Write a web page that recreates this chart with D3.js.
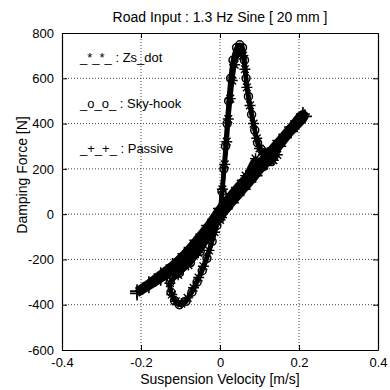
<!DOCTYPE html>
<html><head><meta charset="utf-8">
<script src="https://cdn.jsdelivr.net/npm/d3@7"></script>
<style>
html,body{margin:0;padding:0;background:#fff;}
text{font-family:"Liberation Sans",Arial,Helvetica,sans-serif;fill:#000;}
</style></head>
<body><svg id="c" width="390" height="390"></svg>
<script>
// ---- data ----
const xTicks = [-0.4, -0.2, 0, 0.2, 0.4];
const yTicks = [-600, -400, -200, 0, 200, 400, 600, 800];
const xTickLabels = ["-0.4", "-0.2", "0", "0.2", "0.4"];
const yTickLabels = ["-600", "-400", "-200", "0", "200", "400", "600", "800"];
const legendLabels = ["_*_*_ : Zs_dot", "_o_o_ : Sky-hook", "_+_+_ : Passive"];

const skyX = [0,0.005,0.01,0.014,0.018,0.022,0.027,0.033,0.042,0.05,0.057,0.062,0.066,0.072,0.08,0.088,0.095,0.105,0.12,0.135,0.13,0.11,0.085,0.06,0.035,0.015,0,
  -0.025,-0.05,-0.075,-0.103,-0.126,-0.124,-0.115,-0.103,-0.086,-0.071,-0.058,-0.045,-0.033,-0.02,-0.008,0];
const skyY = [0,100,200,300,400,500,600,680,735,748,735,680,600,520,440,370,315,285,270,255,232,210,180,140,85,30,-20,
  -95,-165,-215,-260,-300,-345,-382,-400,-385,-345,-300,-250,-195,-120,-50,0];

const zsX = [0,0.006,0.012,0.017,0.021,0.026,0.031,0.037,0.045,0.052,0.058,0.063,0.068,0.076,0.085,0.093,0.1,0.11,0.125,0.145,0.135,0.112,0.09,0.065,0.04,0.018,0,
  -0.028,-0.055,-0.08,-0.106,-0.127,-0.122,-0.112,-0.098,-0.082,-0.067,-0.054,-0.042,-0.028,-0.014,0];
const zsY = [0,110,220,320,420,510,590,660,705,722,700,640,560,480,400,335,290,262,255,262,238,215,245,170,95,35,-25,
  -100,-170,-225,-268,-305,-355,-385,-395,-370,-325,-280,-230,-160,-80,0];

const pasX = [-0.21,-0.18,-0.15,-0.12,-0.09,-0.06,-0.03,0,0.03,0.06,0.09,0.12,0.15,0.18,0.215,
  0.21,0.18,0.15,0.12,0.09,0.06,0.03,0,-0.03,-0.06,-0.09,-0.12,-0.15,-0.18,-0.21];
const pasY = [-350,-318,-285,-250,-205,-150,-80,-15,50,110,170,235,300,365,432,
  442,385,325,265,205,150,90,25,-50,-115,-175,-225,-265,-305,-340];

// ---- layout ----
const svg = d3.select("#c");
const L = 62, R = 378, T = 33, B = 350;
const x = d3.scaleLinear().domain([-0.4, 0.4]).range([L, R]);
const y = d3.scaleLinear().domain([-600, 800]).range([B, T]);

// grid
const g = svg.append("g");
g.selectAll(".gx").data(xTicks.slice(1, -1)).enter().append("line")
  .attr("x1", d => x(d)).attr("x2", d => x(d)).attr("y1", T).attr("y2", B)
  .attr("stroke", "#444").attr("stroke-width", 1).attr("stroke-dasharray", "1,2");
g.selectAll(".gy").data(yTicks.slice(1, -1)).enter().append("line")
  .attr("y1", d => y(d)).attr("y2", d => y(d)).attr("x1", L).attr("x2", R)
  .attr("stroke", "#444").attr("stroke-width", 1).attr("stroke-dasharray", "1,2");

// axes
const xAx = svg.append("g").attr("transform", `translate(0,${B})`)
  .call(d3.axisBottom(x).tickValues(xTicks).tickFormat((d, i) => xTickLabels[i]).tickSizeInner(-5).tickSizeOuter(0).tickPadding(8));
const xAxT = svg.append("g").attr("transform", `translate(0,${T})`)
  .call(d3.axisTop(x).tickValues(xTicks).tickFormat("").tickSizeInner(-5).tickSizeOuter(0));
const yAx = svg.append("g").attr("transform", `translate(${L},0)`)
  .call(d3.axisLeft(y).tickValues(yTicks).tickFormat((d, i) => yTickLabels[i]).tickSizeInner(-5).tickSizeOuter(0).tickPadding(8));
const yAxR = svg.append("g").attr("transform", `translate(${R},0)`)
  .call(d3.axisRight(y).tickValues(yTicks).tickFormat("").tickSizeInner(-5).tickSizeOuter(0));
[xAx, xAxT, yAx, yAxR].forEach(a => {
  a.select(".domain").attr("stroke", "#000").attr("stroke-width", 1.2);
  a.selectAll(".tick line").attr("stroke", "#000");
  a.selectAll("text").style("font-size", "13px").style("font-family", "Liberation Sans, Arial, sans-serif").attr("fill", "#000");
});

// series
svg.append("clipPath").attr("id", "cl").append("rect").attr("x", L).attr("y", T).attr("width", R - L).attr("height", B - T);
const plot = svg.append("g").attr("clip-path", "url(#cl)");
const line = d3.line().x(d => x(d[0])).y(d => y(d[1])).curve(d3.curveCatmullRom);

function series(xs, ys, sw, marker, ms) {
  const pts = xs.map((v, i) => [v, ys[i]]);
  plot.append("path").datum(pts).attr("d", line).attr("fill", "none")
    .attr("stroke", "#000").attr("stroke-width", sw).attr("stroke-linejoin", "round");
  const mk = plot.append("g");
  pts.forEach(p => {
    const cx = x(p[0]), cy = y(p[1]);
    if (marker === "o") {
      mk.append("circle").attr("cx", cx).attr("cy", cy).attr("r", ms).attr("fill", "none").attr("stroke", "#000").attr("stroke-width", 1.5);
    } else if (marker === "+") {
      mk.append("path").attr("d", `M${cx - ms},${cy}H${cx + ms}M${cx},${cy - ms}V${cy + ms}`).attr("stroke", "#000").attr("stroke-width", 1.6);
    } else {
      const a = ms * 0.7;
      mk.append("path").attr("d", `M${cx - ms},${cy}H${cx + ms}M${cx},${cy - ms}V${cy + ms}M${cx - a},${cy - a}L${cx + a},${cy + a}M${cx - a},${cy + a}L${cx + a},${cy - a}`)
        .attr("stroke", "#000").attr("stroke-width", 1.4);
    }
  });
}
series(pasX, pasY, 8, "+", 7);
series(zsX, zsY, 4.5, "*", 5.5);
series(skyX, skyY, 4.5, "o", 4);

// legend (text only)
const legY = [62, 108, 153];
legendLabels.forEach((t, i) => {
  svg.append("text").attr("x", 80).attr("y", legY[i]).style("font-size", "13px").text(t);
});

// titles
svg.append("text").attr("x", 220).attr("y", 22).attr("text-anchor", "middle").style("font-size", "14px")
  .text("Road Input  : 1.3 Hz Sine [ 20 mm ]");
svg.append("text").attr("x", 220).attr("y", 384).attr("text-anchor", "middle").style("font-size", "14px")
  .text("Suspension Velocity [m/s]");
svg.append("text").attr("transform", "translate(27,175) rotate(-90)").attr("text-anchor", "middle").style("font-size", "14px")
  .text("Damping Force [N]");
</script></body></html>
